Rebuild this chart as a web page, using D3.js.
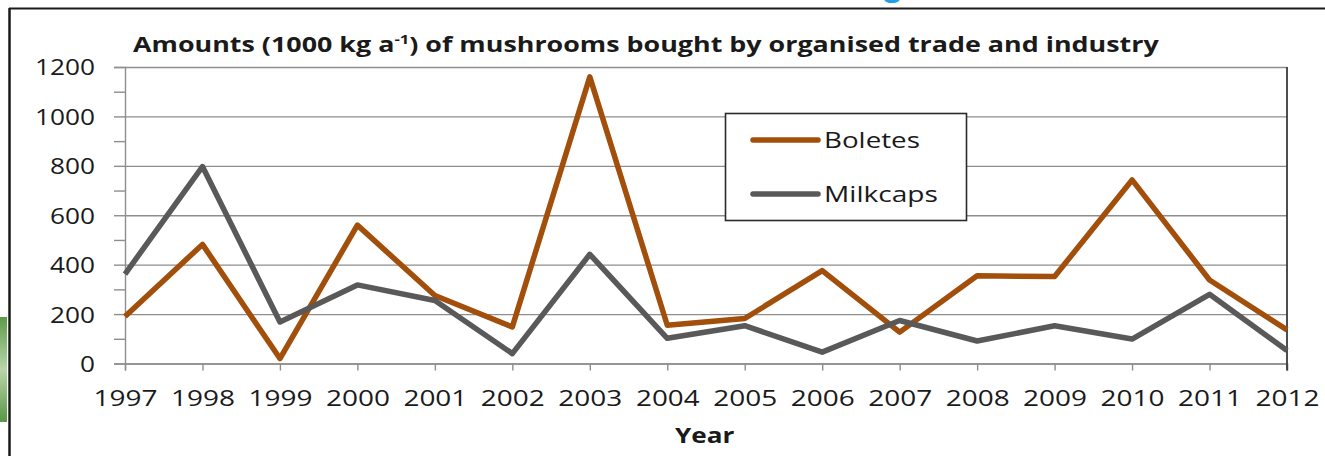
<!DOCTYPE html>
<html>
<head>
<meta charset="utf-8">
<script src="https://cdn.jsdelivr.net/npm/d3@7/dist/d3.min.js"></script>
<style>
  html, body { margin: 0; padding: 0; background: #fff; }
  svg { display: block; }
  text { font-family: "Open Sans", "DejaVu Sans", sans-serif; fill: #1a1a1a; }
</style>
</head>
<body>
<svg id="chart" width="1325" height="456"></svg>
<script>
// Yearly amounts (1000 kg per year) bought by organised trade and industry
const years = [1997, 1998, 1999, 2000, 2001, 2002, 2003, 2004, 2005, 2006, 2007, 2008, 2009, 2010, 2011, 2012];
const boletes = [190, 482, 20, 560, 275, 148, 1160, 155, 182, 376, 127, 355, 352, 743, 338, 136];
const milkcaps = [362, 797, 168, 318, 255, 40, 442, 102, 153, 46, 174, 91, 153, 99, 280, 53];
const seriesNames = ["Boletes", "Milkcaps"];
const seriesColors = ["#a24f0b", "#595959"];
const yTicks = [0, 200, 400, 600, 800, 1000, 1200];
const yMinorTicks = d3.range(0, 1201, 100);

const svg = d3.select("#chart");
const plot = { left: 125, right: 1287, top: 67, bottom: 363.5 };

const x = d3.scalePoint().domain(years).range([plot.left, plot.right]);
const y = d3.scaleLinear().domain([0, 1200]).range([plot.bottom, plot.top]);

// stretch a text element horizontally about a local anchor so it spans a given width
function stretch(node, anchorX, width) {
  const w = node.getBBox().width;
  const f = width / w;
  d3.select(node).attr("transform", `translate(${anchorX},0) scale(${f},1) translate(${-anchorX},0)`);
}

// page frame fragments around the chart
const grad = svg.append("defs").append("linearGradient")
  .attr("id", "greenTab").attr("x1", 0).attr("y1", 0).attr("x2", 0).attr("y2", 1);
grad.append("stop").attr("offset", "0%").attr("stop-color", "#5f9a4c");
grad.append("stop").attr("offset", "50%").attr("stop-color", "#b9d6aa");
grad.append("stop").attr("offset", "100%").attr("stop-color", "#5a9548");
svg.append("rect").attr("x", 0).attr("y", 317).attr("width", 7).attr("height", 105).attr("fill", "url(#greenTab)");
svg.append("text").attr("x", 884).attr("y", -4).attr("font-size", 30).style("fill", "#1ea0e6").attr("font-weight", 700).text("g");
svg.append("line").attr("x1", 9).attr("x2", 1325).attr("y1", 8.5).attr("y2", 8.5).attr("stroke", "#1a1a1a").attr("stroke-width", 2);
svg.append("line").attr("x1", 9.5).attr("x2", 9.5).attr("y1", 8).attr("y2", 456).attr("stroke", "#1a1a1a").attr("stroke-width", 2.5);

// gridlines
const grid = svg.append("g").attr("transform", `translate(${plot.left},0)`)
  .call(d3.axisLeft(y).tickValues(yTicks).tickSize(-(plot.right - plot.left)).tickFormat(""));
grid.select(".domain").remove();
grid.selectAll("line").attr("stroke", "#8e8e8e").attr("stroke-width", 1.4);

// y axis with minor ticks every 100
const yAxis = svg.append("g").attr("transform", `translate(${plot.left},0)`)
  .call(d3.axisLeft(y).tickValues(yMinorTicks).tickSize(11).tickPadding(19)
    .tickFormat(d => yTicks.includes(d) ? d : ""));
yAxis.select(".domain").attr("stroke", "#8e8e8e").attr("stroke-width", 1.4);
yAxis.selectAll("line").attr("stroke", "#8e8e8e").attr("stroke-width", 1.4);
yAxis.selectAll("text").attr("font-size", 22).attr("dy", "0.36em").style("fill", "#1a1a1a")
  .each(function () { if (this.textContent) stretch(this, -30, 15 * this.textContent.length); });

// x axis
const xAxis = svg.append("g").attr("transform", `translate(0,${plot.bottom})`)
  .call(d3.axisBottom(x).tickSize(7).tickFormat(d => String(d)));
xAxis.select(".domain").attr("stroke", "#8e8e8e").attr("stroke-width", 1.4);
xAxis.selectAll("line").attr("stroke", "#8e8e8e").attr("stroke-width", 1.4);
xAxis.selectAll("text").attr("font-size", 22).attr("y", 42.5).attr("dy", 0).style("fill", "#1a1a1a")
  .each(function () { stretch(this, 0, 64); });

// right border of the plot area
svg.append("line").attr("x1", plot.right).attr("x2", plot.right).attr("y1", plot.top).attr("y2", plot.bottom + 7)
  .attr("stroke", "#3a3a3a").attr("stroke-width", 1.8);

// series lines
const line = d3.line().x((d, i) => x(years[i])).y(d => y(d));
[boletes, milkcaps].forEach((vals, k) => {
  svg.append("path").datum(vals).attr("d", line)
    .attr("fill", "none").attr("stroke", seriesColors[k]).attr("stroke-width", 5.5)
    .attr("stroke-linejoin", "round").attr("stroke-linecap", "butt");
});

// legend
const legend = svg.append("g");
legend.append("rect").attr("x", 725.5).attr("y", 113.5).attr("width", 241).attr("height", 107)
  .attr("fill", "#fff").attr("stroke", "#2a2a2a").attr("stroke-width", 1.6);
const legendRows = [140, 194];
const legendWidths = [96, 114];
seriesNames.forEach((name, k) => {
  legend.append("line").attr("x1", 753).attr("x2", 818).attr("y1", legendRows[k]).attr("y2", legendRows[k])
    .attr("stroke", seriesColors[k]).attr("stroke-width", 5.5).attr("stroke-linecap", "round");
  legend.append("text").attr("x", 824).attr("y", legendRows[k] + 8).attr("font-size", 21).text(name)
    .each(function () { stretch(this, 824, legendWidths[k]); });
});

// title
const title = svg.append("text").attr("x", 133).attr("y", 52).attr("font-size", 21).attr("font-weight", 700);
title.append("tspan").text("Amounts (1000 kg a");
title.append("tspan").attr("font-size", 13).attr("dy", -8).text("-1");
title.append("tspan").attr("dy", 8).text(") of mushrooms bought by organised trade and industry");
stretch(title.node(), 133, 1026);

// x axis title
const yearLabel = svg.append("text").attr("x", 675).attr("y", 443).attr("font-size", 21).attr("font-weight", 700).text("Year");
stretch(yearLabel.node(), 675, 60);
</script>
</body>
</html>
